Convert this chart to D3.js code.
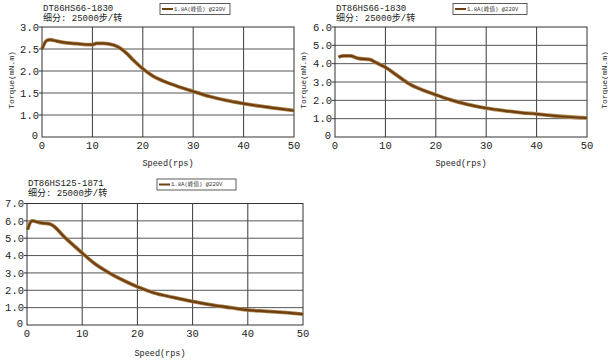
<!DOCTYPE html>
<html><head><meta charset="utf-8">
<script src="https://cdn.jsdelivr.net/npm/d3@7"></script>
<style>body{margin:0;background:#fff}svg{display:block}</style>
</head><body>
<svg id="c" width="608" height="362"></svg>
<script>
// ---- data ----
const titles = ["DT86HS66-1830", "DT86HS66-1830", "DT86HS125-1871"];
const subtitle = "细分: 25000步/转";
const legendText = "1.8A(峰值) @220V";
const xTicks = [0, 10, 20, 30, 40, 50];
const yTicks1 = [0, 1.0, 1.5, 2.0, 2.5, 3.0];
const yTicks2 = [0, 1.0, 2.0, 3.0, 4.0, 5.0, 6.0];
const yTicks3 = [0, 1.0, 2.0, 3.0, 4.0, 5.0, 6.0, 7.0];
const speed1 = [0, 0.9, 1.6, 2.9, 4.9, 6.9, 9.5, 10.0, 10.8, 12.2, 14.2, 15.5, 16.8, 18.1, 19.8, 21.8, 24.1, 26.7, 29.9, 33.3, 36.6, 40, 43.3, 46.6, 50];
const torque1 = [2.5, 2.69, 2.71, 2.68, 2.64, 2.62, 2.60, 2.60, 2.63, 2.63, 2.59, 2.52, 2.40, 2.25, 2.07, 1.90, 1.77, 1.66, 1.54, 1.42, 1.33, 1.26, 1.20, 1.15, 1.10];
const speed2 = [0.7, 1.7, 3.0, 4.6, 7.0, 7.9, 9.9, 12.3, 14.9, 17.5, 19.9, 22.8, 26.2, 29.9, 33.4, 36.8, 40.1, 43.4, 46.7, 50];
const torque2 = [4.36, 4.42, 4.42, 4.29, 4.22, 4.09, 3.82, 3.36, 2.87, 2.55, 2.31, 2.04, 1.78, 1.58, 1.44, 1.33, 1.25, 1.16, 1.09, 1.04];
const speed3 = [0.1, 0.9, 2.5, 4.2, 7.0, 10.0, 12.0, 14.8, 17.5, 20.0, 22.9, 26.5, 29.9, 33.7, 37.3, 40.1, 43.4, 47.0, 50];
const torque3 = [5.5, 6.0, 5.88, 5.81, 5.0, 4.15, 3.6, 3.02, 2.56, 2.2, 1.86, 1.59, 1.36, 1.15, 0.98, 0.86, 0.79, 0.71, 0.63];

const svg = d3.select("#c");
const MONO = "'Liberation Mono','DejaVu Sans Mono','Noto Sans CJK SC',monospace";
const lineOuter = "#b08552", lineInner = "#6e400f";

function drawChart(o) {
  const g = svg.append("g");
  const x = d3.scaleLinear().domain([0, 50]).range([o.x0, o.x1]);
  const y = d3.scaleLinear().domain(o.yDomain).range(o.yRange);
  const top = y(o.yTicks[o.yTicks.length - 1]), bot = y(0);
  // grid
  g.selectAll(".gv").data(o.xTicks.slice(1, -1)).join("line")
    .attr("x1", d => x(d)).attr("x2", d => x(d)).attr("y1", top).attr("y2", bot)
    .attr("stroke", "#3a3a3a").attr("stroke-width", 1);
  g.selectAll(".gh").data(o.yTicks.slice(1, -1)).join("line")
    .attr("x1", o.x0).attr("x2", o.x1).attr("y1", d => y(d)).attr("y2", d => y(d))
    .attr("stroke", "#555").attr("stroke-width", 1);
  // frame
  g.append("rect").attr("x", o.x0).attr("y", top).attr("width", o.x1 - o.x0).attr("height", bot - top)
    .attr("fill", "none").attr("stroke", "#333").attr("stroke-width", 1);
  // y ticks
  g.selectAll(".yt").data(o.yTicks.slice(1)).join("line")
    .attr("x1", o.x0 - 3).attr("x2", o.x0).attr("y1", d => y(d)).attr("y2", d => y(d))
    .attr("stroke", "#333");
  g.selectAll(".yl").data(o.yTicks).join("text")
    .attr("x", d => d === 0 ? o.x0 - 4 : o.x0 - 3).attr("y", d => d === 0 ? y(d) - 2 : y(d))
    .attr("dy", "0.35em").attr("text-anchor", "end")
    .attr("font-family", MONO).attr("font-size", 10.5).attr("fill", "#222")
    .text(d => d === 0 ? "0" : d.toFixed(1));
  g.selectAll(".xl").data(o.xTicks).join("text")
    .attr("x", d => x(d)).attr("y", bot + 8).attr("dy", "0.35em").attr("text-anchor", "middle")
    .attr("font-family", MONO).attr("font-size", 10.5).attr("fill", "#222")
    .text(d => d);
  // axis titles
  g.append("text").attr("x", (o.x0 + o.x1) / 2 + o.xlabDx).attr("y", o.xlabY).attr("text-anchor", "middle")
    .attr("font-family", MONO).attr("font-size", 8.5).attr("fill", "#222").text("Speed(rps)");
  (o.ylabX || []).forEach(lx => {
    g.append("text").attr("transform", `translate(${lx},${(top + bot) / 2 - 2}) rotate(-90)`)
      .attr("text-anchor", "middle").attr("dy", "0.35em")
      .attr("font-family", MONO).attr("font-size", 8).attr("fill", "#222").text("Torque(mN.m)");
  });
  // titles
  g.append("text").attr("x", o.tx).attr("y", o.ty).attr("font-family", MONO).attr("font-size", 9)
    .attr("fill", "#222").text(o.title);
  g.append("text").attr("x", o.tx).attr("y", o.ty + 9.5).attr("font-family", MONO).attr("font-size", 9)
    .attr("fill", "#222").text(subtitle);
  // legend
  g.append("rect").attr("x", o.lx).attr("y", o.ly).attr("width", o.lw).attr("height", 11)
    .attr("fill", "#fff").attr("stroke", "#333").attr("stroke-width", 0.8);
  g.append("line").attr("x1", o.lx + 2).attr("x2", o.lx + 13).attr("y1", o.ly + 5.5).attr("y2", o.ly + 5.5)
    .attr("stroke", lineInner).attr("stroke-width", 2);
  g.append("text").attr("x", o.lx + 14).attr("y", o.ly + 5.5).attr("dy", "0.35em")
    .attr("font-family", MONO).attr("font-size", 5.6).attr("fill", "#333").text(legendText);
  // curve
  const pts = o.sx.map((s, i) => [s, o.sy[i]]);
  const line = d3.line().x(d => x(d[0])).y(d => y(d[1])).curve(o.curve || d3.curveMonotoneX);
  g.append("path").attr("d", line(pts)).attr("fill", "none").attr("stroke", lineOuter)
    .attr("stroke-width", 3.8).attr("stroke-linejoin", "round");
  g.append("path").attr("d", line(pts)).attr("fill", "none").attr("stroke", lineInner)
    .attr("stroke-width", 2.2).attr("stroke-linejoin", "round");
}

drawChart({x0: 42, x1: 294, yDomain: [0, 1, 3], yRange: [137, 115, 27], yTicks: yTicks1, xTicks,
  sx: speed1, sy: torque1, title: titles[0], tx: 43, ty: 11, lx: 160, ly: 3.5, lw: 70,
  xlabY: 166, xlabDx: 0, ylabX: [11]});
drawChart({x0: 335, x1: 587, yDomain: [0, 6], yRange: [137, 27], yTicks: yTicks2, xTicks,
  sx: speed2, sy: torque2, title: titles[1], tx: 336, ty: 11, lx: 453, ly: 3.5, lw: 74,
  xlabY: 166, xlabDx: 0, ylabX: [303, 604]});
drawChart({x0: 27, x1: 303, yDomain: [0, 7], yRange: [325, 203.5], yTicks: yTicks3, xTicks,
  sx: speed3, sy: torque3, title: titles[2], tx: 28, ty: 186, lx: 157, ly: 179, lw: 79,
  xlabY: 356, xlabDx: -5, ylabX: [], curve: d3.curveMonotoneX});
</script>
</body></html>
